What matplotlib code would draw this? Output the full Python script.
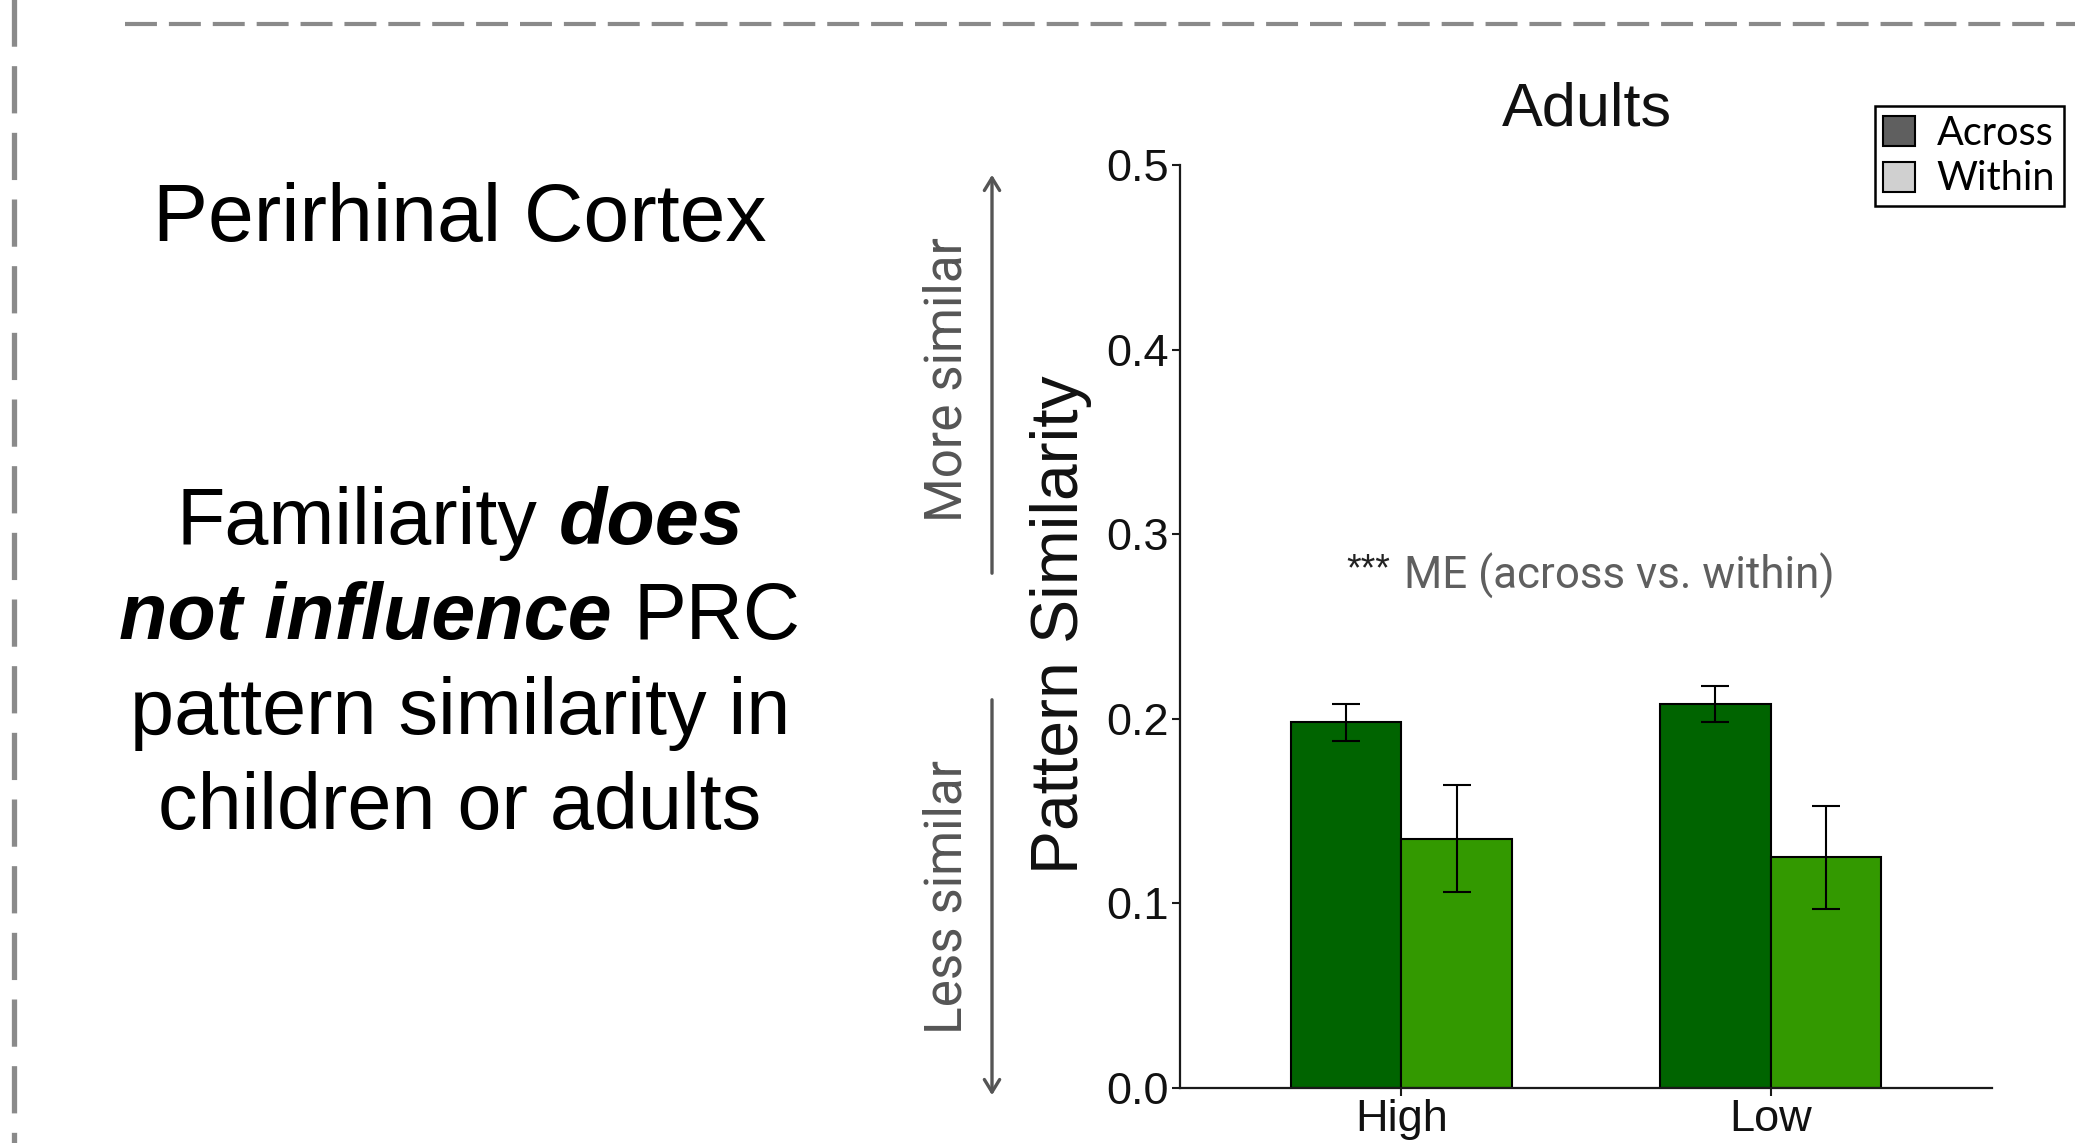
import matplotlib
matplotlib.use("Agg")
import matplotlib.pyplot as plt
import numpy as np
from matplotlib import font_manager
from matplotlib.lines import Line2D
from matplotlib.patches import FancyArrowPatch, Patch

# ---- data ----
categories = ["High", "Low"]
across_mean = [0.198, 0.208]
within_mean = [0.135, 0.125]
across_se = [0.010, 0.010]
within_se = [0.029, 0.028]
yticks = [0.0, 0.1, 0.2, 0.3, 0.4, 0.5]
ytick_labels = ["0.0", "0.1", "0.2", "0.3", "0.4", "0.5"]
legend_labels = ["Across", "Within"]

W, H = 2075, 1143
DPI = 100
plt.rcParams["lines.scale_dashes"] = False

installed = {f.name for f in font_manager.fontManager.ttflist}
SANS = "Liberation Sans" if "Liberation Sans" in installed else "DejaVu Sans"
if "Liberation Sans Narrow" in installed:
    NARROW, NSCALE = "Liberation Sans Narrow", 1.0
else:
    NARROW, NSCALE = "Roboto", 0.82
LEG = "Lato" if "Lato" in installed else SANS

fig = plt.figure(figsize=(W / DPI, H / DPI), dpi=DPI)


def fx(px):
    return px / W


def fy(py):
    return 1 - py / H


# ---- bar chart ----
ax = fig.add_axes([fx(1180), fy(1088), fx(1992) - fx(1180), fy(165) - fy(1088)])
x = np.arange(1, len(categories) + 1)
bw = 0.3
dark, light = "#006400", "#339900"
ax.bar(x - bw / 2, across_mean, bw, color=dark, edgecolor="black", linewidth=1.5, zorder=2)
ax.bar(x + bw / 2, within_mean, bw, color=light, edgecolor="black", linewidth=1.5, zorder=2)
ax.errorbar(x - bw / 2, across_mean, yerr=across_se, fmt="none", ecolor="black",
            elinewidth=1.5, capsize=10, capthick=1.5, zorder=3)
ax.errorbar(x + bw / 2, within_mean, yerr=within_se, fmt="none", ecolor="black",
            elinewidth=1.5, capsize=10, capthick=1.5, zorder=3)

ax.set_xlim(0.4, 2.6)
ax.set_ylim(0, 0.5)
ax.set_yticks(yticks)
ax.set_yticklabels(ytick_labels)
ax.set_xticks(x)
ax.set_xticklabels(categories)
for s in ["top", "right"]:
    ax.spines[s].set_visible(False)
for s in ["left", "bottom"]:
    ax.spines[s].set_linewidth(1.6)
    ax.spines[s].set_color("#1a1a1a")
ax.tick_params(axis="both", length=6, width=1.5, color="#1a1a1a", pad=2,
               labelsize=32.5, labelcolor="#111111")
for lab in ax.get_xticklabels() + ax.get_yticklabels():
    lab.set_family(SANS)
ax.set_facecolor("none")

# y label, title and annotation
fig.text(fx(1061), fy(625), "Pattern Similarity", rotation=90, ha="center", va="center",
         fontsize=47.5, family=SANS, color="#111111")
fig.text(fx(1587), fy(110), "Adults", ha="center", va="center", fontsize=44,
         family=SANS, color="#111111")
fig.text(fx(1390), fy(570), "***", ha="right", va="center", fontsize=27,
         family=SANS, color="#222222")
fig.text(fx(1404), fy(576), "ME (across vs. within)", ha="left", va="center",
         fontsize=38.5 * NSCALE, family=NARROW, color="#5f5f5f")

# legend
handles = [Patch(facecolor="#5f5f5f", edgecolor="black", linewidth=1.5),
           Patch(facecolor="#d0d0d0", edgecolor="black", linewidth=1.5)]
leg = fig.legend(handles, legend_labels, loc="upper right",
                 bbox_to_anchor=(fx(2064), fy(106)), prop={"family": LEG, "size": 28.5},
                 frameon=True, fancybox=False, edgecolor="black", framealpha=1,
                 handlelength=0.8, handleheight=0.8, handletextpad=0.55,
                 borderpad=0.22, labelspacing=0.22, borderaxespad=0)
leg.get_frame().set_linewidth(1.8)

# similarity arrows
gray = "#555555"
for (y0, y1) in [(576, 172), (697, 1098)]:
    fig.add_artist(FancyArrowPatch((fx(992), fy(y0)), (fx(992), fy(y1)),
                                   transform=fig.transFigure,
                                   arrowstyle="->,head_length=9,head_width=5.5",
                                   color=gray, linewidth=2.4, mutation_scale=1))
fig.text(fx(947), fy(379), "More similar", rotation=90, ha="center", va="center",
         fontsize=45 * NSCALE, family=NARROW, color=gray)
fig.text(fx(947), fy(897), "Less similar", rotation=90, ha="center", va="center",
         fontsize=45 * NSCALE, family=NARROW, color=gray)

# ---- left panel text ----
fig.text(fx(460), fy(241), "Perirhinal Cortex", ha="center", va="baseline",
         fontsize=59.3, family=SANS, color="black")

body_size = 57
lines = [
    [("Familiarity", "normal"), ("does", "bold")],
    [("not influence", "bold"), ("PRC", "normal")],
    [("pattern similarity in", "normal")],
    [("children or adults", "normal")],
]
baselines = [544, 639, 734, 829]
renderer = fig.canvas.get_renderer()
space_px = 0.278 * body_size * DPI / 72
for segs, base in zip(lines, baselines):
    texts = []
    for txt, kind in segs:
        t = fig.text(0, fy(base), txt, ha="left", va="baseline", fontsize=body_size,
                     family=SANS, color="black",
                     fontweight="bold" if kind == "bold" else "normal",
                     fontstyle="italic" if kind == "bold" else "normal")
        texts.append(t)
    widths = [t.get_window_extent(renderer).width for t in texts]
    total = sum(widths) + space_px * (len(texts) - 1)
    cur = 460 - total / 2
    for t, w in zip(texts, widths):
        t.set_x(fx(cur))
        cur += w + space_px

# ---- dashed frame ----
frame_color = "#8a8a8a"
top = Line2D([fx(125), fx(W + 5)], [fy(24), fy(24)], transform=fig.transFigure,
             color=frame_color, linewidth=3, linestyle=(0, (23, 8.6)))
fig.add_artist(top)
side = Line2D([fx(14), fx(14)], [fy(-4), fy(H + 5)], transform=fig.transFigure,
              color=frame_color, linewidth=3.8, linestyle=(0, (34, 14)))
fig.add_artist(side)

fig.savefig("out.png", dpi=DPI, facecolor="white")
